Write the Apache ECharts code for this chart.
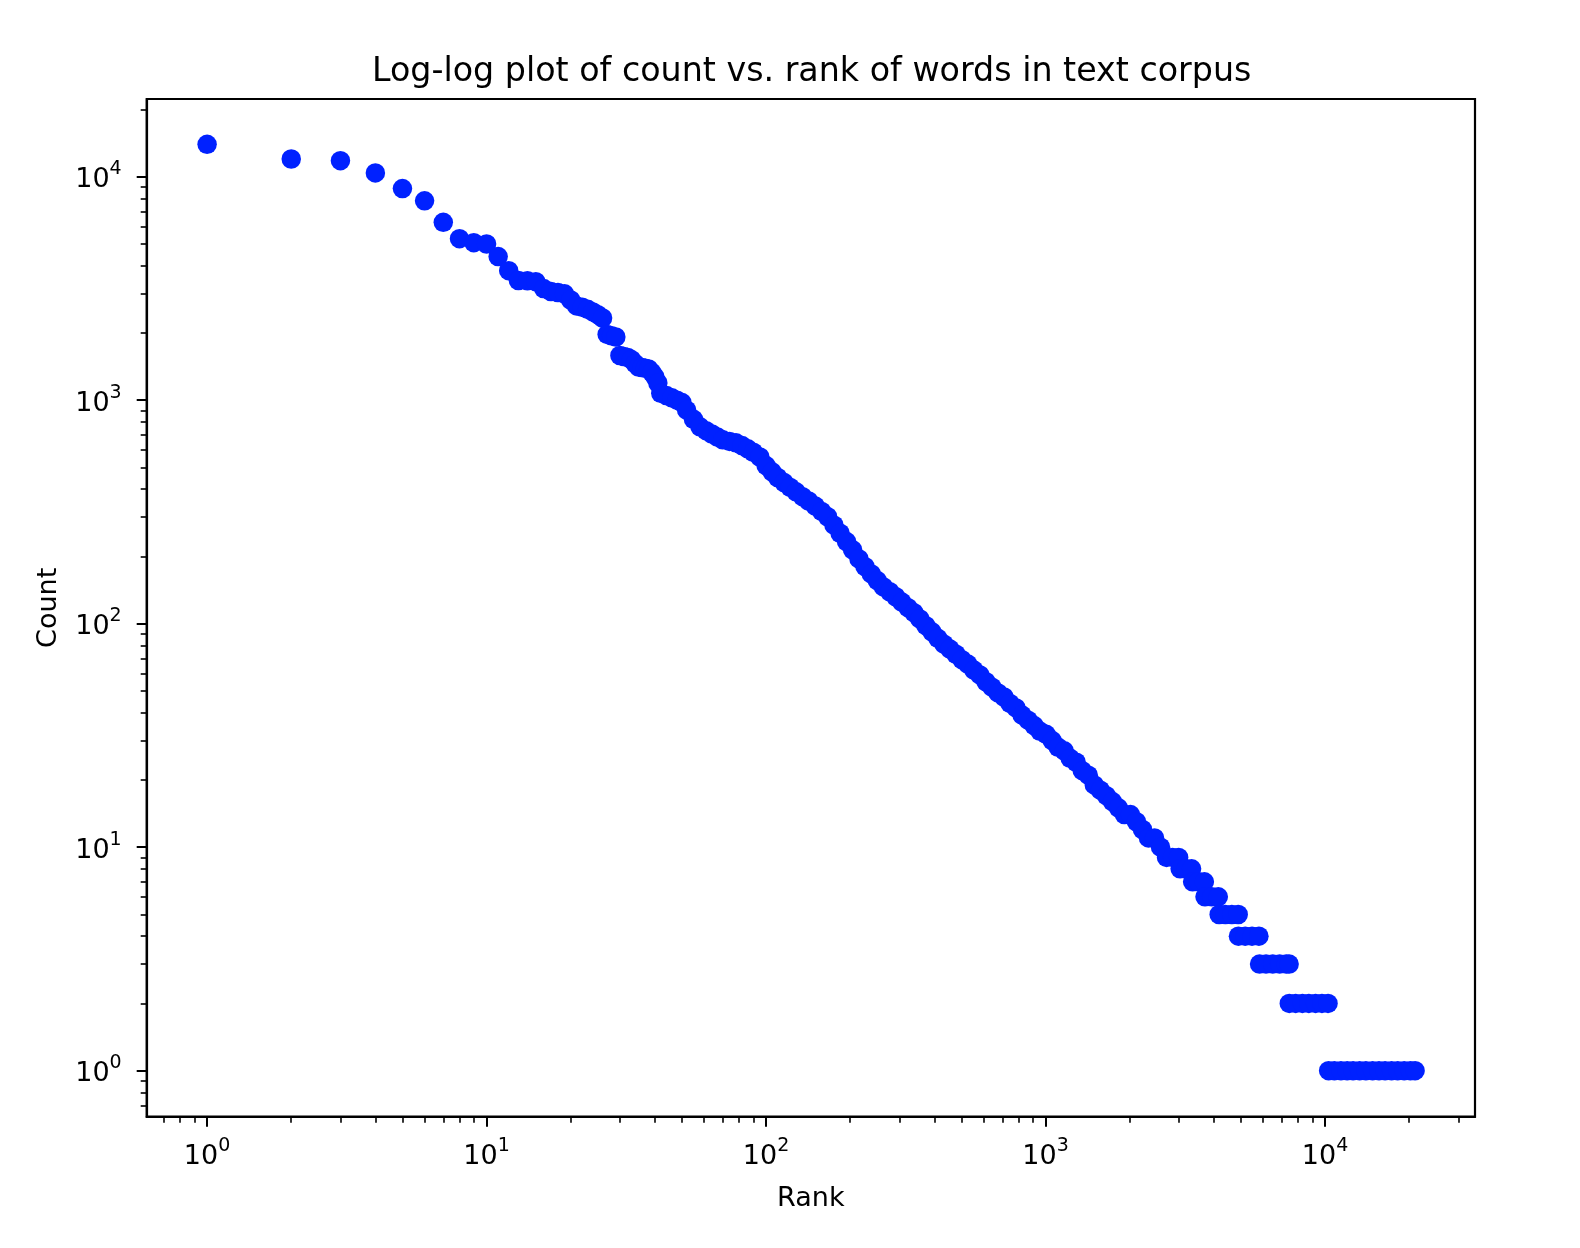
<!DOCTYPE html>
<html>
<head>
<meta charset="utf-8">
<script src="https://cdn.jsdelivr.net/npm/echarts@6/dist/echarts.min.js"></script>
<style>
html,body{margin:0;padding:0;background:#ffffff;}
#chart{width:1580px;height:1248px;}
</style>
</head>
<body>
<div id="chart"></div>
<script>
// ---- data ----
const ranks = [
  1,2,3,4,5,6,7,8,9,10,11,12,13,14,15,16,17,18,19,20,21,22,23,24,25,26,27,28,29,30,31,32,33,34,35,36,37,38,39,40,41,42,
  44,46,48,50,52,55,58,61,64,67,70,74,78,82,86,90,95,
  100,105,110,116,122,128,135,142,150,158,166,175,184,194,204,215,226,238,250,263,277,291,306,322,338,355,373,392,412,433,455,478,502,527,554,582,612,643,676,710,746,784,824,866,910,956,
  1005,1056,1110,1166,1225,1287,1353,1422,1494,1570,1650,1734,1822,1915,2012,2114,2222,2335,2454,2579,2710,2848,2993,
  3030,3180,3330, 3360,3520,3700, 3720,3930,4150, 4180,4400,4640,4890, 4900,5180,5480,5800,
  5830,6150,6500,6880,7260,7440, 7450,7850,8300,8750,9250,9750,10250,
  10300,10800,11400,12000,12600,13300,14000,14800,15600,16400,17300,18200,19200,20200,21000
];
const counts = [
  13960,12000,11800,10400,8850,7800,6250,5280,5070,5000,4390,3800,3430,3420,3390,3160,3065,3033,2993,2808,
  2642,2604,2551,2484,2415,2333,1970,1942,1918,1585,1569,1554,1519,1457,1408,1400,1390,1380,1333,1272,1194,1074,
  1049,1025,1000,976,902,821,760,731,706,684,665,654,645,627,606,585,557,
  510,478,451,428,407,389,370,354,336,318,301,276,254,233,214,195,180,167,156,146,139,132,125,118,112,105,98,92,86,81,77,73,69,66,62,59,55,52,49,47,44,42,39,37,35,33,
  32,30,28,27,25,24,22,21,19,18,17,16,15,14,14,13,12,11,11,10,9,9,9,
  8,8,8, 7,7,7, 6,6,6, 5,5,5,5, 4,4,4,4,
  3,3,3,3,3,3, 2,2,2,2,2,2,2,
  1,1,1,1,1,1,1,1,1,1,1,1,1,1,1
];

// ---- tick positions ----
const xMajorTicks = [1, 10, 100, 1000, 10000];
const xMinorTicks = [0.7,0.8,0.9,2,3,4,5,6,7,8,9,20,30,40,50,60,70,80,90,200,300,400,500,600,700,800,900,
  2000,3000,4000,5000,6000,7000,8000,9000,20000,30000];
const yMajorTicks = [1, 10, 100, 1000, 10000];
const yMinorTicks = [0.7,0.8,0.9,2,3,4,5,6,7,8,9,20,30,40,50,60,70,80,90,200,300,400,500,600,700,800,900,
  2000,3000,4000,5000,6000,7000,8000,9000,20000];

const titleText = 'Log-log plot of count vs. rank of words in text corpus';
const xName = 'Rank';
const yName = 'Count';

const FONT = 'DejaVu Sans';
const points = ranks.map((r, i) => [r, counts[i]]);

function powLabel(v) {
  const e = Math.round(Math.log10(v));
  return '{b|10}{s|' + e + '}';
}
const richStyle = {
  b: { fontSize: 27, fontFamily: FONT, color: '#000', lineHeight: 34, verticalAlign: 'bottom' },
  s: { fontSize: 19, fontFamily: FONT, color: '#000', lineHeight: 27, verticalAlign: 'top' }
};

const chart = echarts.init(document.getElementById('chart'), null, { renderer: 'canvas' });
const lineCol = '#000000';
chart.setOption({
  animation: false,
  backgroundColor: '#ffffff',
  title: {
    text: titleText,
    left: 372,
    top: 56,
    padding: 0,
    textStyle: { fontFamily: FONT, fontSize: 33.3, fontWeight: 'normal', color: '#000', lineHeight: 33 }
  },
  grid: {
    left: 146.7, right: 105, top: 99, bottom: 131.3,
    show: true, borderColor: lineCol, borderWidth: 2.2, backgroundColor: 'transparent',
    containLabel: false, outerBoundsMode: 'none'
  },
  xAxis: [
    {
      type: 'log', logBase: 10, gridIndex: 0, position: 'bottom',
      min: 0.608, max: 34400,
      name: xName, nameLocation: 'middle', nameGap: 69,
      nameTextStyle: { fontFamily: FONT, fontSize: 27, color: '#000', lineHeight: 27 },
      axisLine: { show: true, onZero: false, lineStyle: { color: lineCol, width: 2.2 } },
      axisTick: { show: true, inside: false, length: 10, customValues: xMajorTicks, lineStyle: { color: lineCol, width: 2 } },
      axisLabel: { show: true, customValues: xMajorTicks, margin: 20, formatter: powLabel, rich: richStyle },
      splitLine: { show: false }, minorTick: { show: false }
    },
    {
      type: 'log', logBase: 10, gridIndex: 0, position: 'bottom',
      min: 0.608, max: 34400,
      axisLine: { show: false, onZero: false },
      axisTick: { show: true, inside: false, length: 6, customValues: xMinorTicks, lineStyle: { color: lineCol, width: 1.6 } },
      axisLabel: { show: false },
      splitLine: { show: false }
    }
  ],
  yAxis: [
    {
      type: 'log', logBase: 10, gridIndex: 0, position: 'left',
      min: 0.6226, max: 22270,
      name: yName, nameLocation: 'middle', nameGap: 84, nameRotate: 90,
      nameTextStyle: { fontFamily: FONT, fontSize: 27, color: '#000', lineHeight: 27 },
      axisLine: { show: true, onZero: false, lineStyle: { color: lineCol, width: 2.2 } },
      axisTick: { show: true, inside: false, length: 10, customValues: yMajorTicks, lineStyle: { color: lineCol, width: 2 } },
      axisLabel: { show: true, customValues: yMajorTicks, margin: 25, formatter: powLabel, rich: richStyle },
      splitLine: { show: false }, minorTick: { show: false }
    },
    {
      type: 'log', logBase: 10, gridIndex: 0, position: 'left',
      min: 0.6226, max: 22270,
      axisLine: { show: false, onZero: false },
      axisTick: { show: true, inside: false, length: 6, customValues: yMinorTicks, lineStyle: { color: lineCol, width: 1.6 } },
      axisLabel: { show: false },
      splitLine: { show: false }
    }
  ],
  series: [
    {
      type: 'scatter',
      xAxisIndex: 0, yAxisIndex: 0,
      data: points,
      symbol: 'circle',
      symbolSize: 19.5,
      itemStyle: { color: '#0021ff', opacity: 1 },
      silent: true,
      clip: false
    }
  ]
});
</script>
</body>
</html>
